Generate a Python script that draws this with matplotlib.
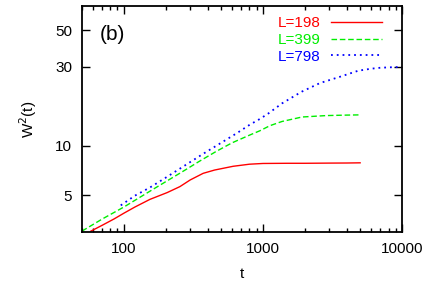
import matplotlib
matplotlib.use("Agg")
import matplotlib.pyplot as plt
from matplotlib.ticker import FixedLocator, NullLocator, LogLocator, FixedFormatter

plt.rcParams['font.family'] = ['Liberation Sans', 'DejaVu Sans']

# W^2(t) curves for three system sizes
t_198 = [58, 70, 85, 100, 120, 154, 205, 253, 300, 372, 450, 611, 800,
         1000, 1500, 2000, 3000, 4000, 5000]
w_198 = [3.04, 3.3, 3.6, 3.9, 4.25, 4.73, 5.2, 5.65, 6.2, 6.8, 7.12, 7.5,
         7.72, 7.8, 7.82, 7.82, 7.84, 7.85, 7.87]

t_399 = [50, 70, 100, 154, 200, 267, 350, 464, 600, 806, 951, 1122, 1372,
         1910, 2860, 4000, 5000]
w_399 = [3.04, 3.6, 4.25, 5.3, 6.05, 7.0, 8.05, 9.25, 10.4, 11.6, 12.3, 13.2,
         14.0, 14.9, 15.2, 15.3, 15.35]

t_798 = [95, 120, 154, 200, 267, 370, 464, 650, 806, 951, 1100, 1370, 1900,
         2570, 3580, 4850, 6000, 7000, 8500, 10000]
w_798 = [4.35, 4.98, 5.58, 6.4, 7.47, 8.9, 10.0, 11.9, 13.4, 14.5, 15.7, 18.0,
         21.2, 23.9, 26.1, 28.4, 29.2, 29.6, 29.8, 29.9]

labels = ["L=198", "L=399", "L=798"]
y_ticks = [5, 10, 30, 50]
x_ticks = [100, 1000, 10000]

fig = plt.figure(figsize=(4.36, 2.83), dpi=100)
ax = fig.add_axes([0.188, 0.18, 0.734, 0.799])

ax.plot(t_198, w_198, color='#ff0000', lw=1.0, label=labels[0])
ax.plot(t_399, w_399, color='#00ee00', lw=1.0, dashes=(4, 2), label=labels[1])
ax.plot(t_798, w_798, color='#0000ff', lw=1.3, dashes=(1, 2.2), label=labels[2])

ax.set_xscale('log')
ax.set_yscale('log')
ax.set_xlim(50, 10000)
ax.set_ylim(3, 70)

ax.yaxis.set_major_locator(FixedLocator(y_ticks))
ax.yaxis.set_major_formatter(FixedFormatter([str(v) for v in y_ticks]))
ax.yaxis.set_minor_locator(NullLocator())
ax.xaxis.set_major_locator(FixedLocator(x_ticks))
ax.xaxis.set_major_formatter(FixedFormatter([str(v) for v in x_ticks]))
ax.xaxis.set_minor_locator(LogLocator(base=10, subs=range(2, 10)))

ax.tick_params(which='both', direction='in', top=True, right=True,
               labelsize=11, width=1.0)
ax.tick_params(which='major', length=6, pad=7)
ax.tick_params(which='minor', length=3)
for s in ax.spines.values():
    s.set_linewidth(1.3)

ax.set_xlabel('t', fontsize=11, labelpad=8)
ax.set_ylabel(r'W$^2$(t)', fontsize=11, labelpad=12)

ax.text(0.055, 0.85, '(b)', transform=ax.transAxes, fontsize=15)

leg = ax.legend(loc='upper right', bbox_to_anchor=(0.965, 0.995), frameon=False,
                markerfirst=False, labelcolor='linecolor', fontsize=11,
                handlelength=3.3, handletextpad=0.7, labelspacing=0.18,
                borderaxespad=0.2)

fig.savefig('out.png', dpi=100)
